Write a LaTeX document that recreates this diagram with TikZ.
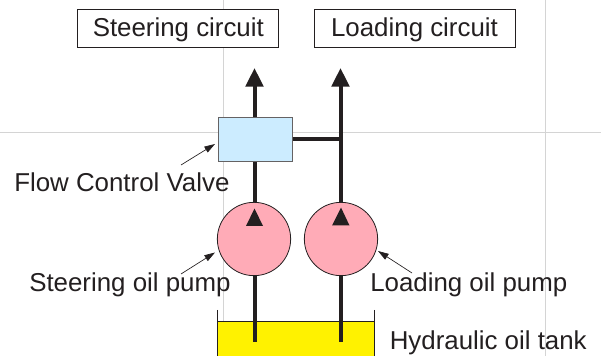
\documentclass[tikz,border=0pt]{standalone}
\usepackage{fontspec}
\setmainfont{Liberation Sans}
\usetikzlibrary{arrows.meta}
\definecolor{ink}{HTML}{231F20}
\definecolor{gridc}{HTML}{D4D4D4}
\definecolor{pumpc}{HTML}{FFABB7}
\definecolor{valvec}{HTML}{CCECFF}
\definecolor{tankc}{HTML}{FFF200}
\tikzset{
  x=0.75pt,y=-0.75pt,
  gridline/.style={draw=gridc,line width=0.75pt},
  labelbox/.style={draw=ink,fill=white,line width=0.6pt,minimum height=28.5pt,minimum width=150.75pt,inner sep=0pt,text height=14.6pt,text depth=3.3pt,font=\fontsize{19.4pt}{21pt}\selectfont,text=ink},
  pipe/.style={draw=ink,line width=3pt},
  flow/.style={pipe,-{Triangle[length=14pt,width=13pt]}},
  txt/.style={inner sep=0pt,font=\fontsize{19.4pt}{21pt}\selectfont,text=ink},
  pump/.style={circle,draw=ink,fill=pumpc,line width=0.6pt,minimum size=55pt,inner sep=0pt},
  lead/.style={draw=ink,line width=0.5pt,-{Triangle[length=8pt,width=5pt]}},
}
\begin{document}
\begin{tikzpicture}
\useasboundingbox (0,0) rectangle (601,356);
\draw[gridline] (223,0) -- (223,321);
\draw[gridline] (0,133) -- (601,133);
\draw[gridline] (545,0) -- (545,356);
% tank
\fill[tankc] (217.5,321.5) rectangle (374.5,356);
\draw[ink,line width=0.6pt] (217.5,310) -- (217.5,356);
\draw[ink,line width=0.6pt] (374.5,310) -- (374.5,356);
\draw[ink,line width=0.6pt] (217.5,321.5) -- (374.5,321.5);
% nodes
\node[labelbox] (sc) at (178.3,28.5) {Steering circuit};
\node[labelbox] (lc) at (414.5,28.5) {Loading circuit};
\coordinate (st) at (254.5,342);
\coordinate (lt) at (340.5,342);
\coordinate (sh) at (254.5,68);
\coordinate (lh) at (340.5,68);
\draw[flow] (st) -- (sh);
\draw[flow] (lt) -- (lh);
\node[draw=ink!70,fill=valvec,line width=0.7pt,minimum width=55.5pt,minimum height=33pt,inner sep=0pt] (valve) at (255.5,139) {};
\draw[pipe] (valve.east |- 0,139.5) -- (340.5,139.5);
\node[pump] (sp) at (254,239) {};
\node[pump] (lp) at (341,239) {};
\fill[ink] (254.5,208.5) -- (263,226) -- (246,226) -- cycle;
\fill[ink] (341,207.5) -- (349.5,225.5) -- (332,225.5) -- cycle;
\draw[pipe] (254.5,275) -- (st);
\draw[pipe] (340.5,275) -- (lt);
\node[txt,anchor=base west] (fcv) at (14,192) {Flow Control Valve};
\node[txt,anchor=base west] (sop) at (29,292) {Steering oil pump};
\node[txt,anchor=base west] (lop) at (370,292) {Loading oil pump};
\node[txt,anchor=base west] (hot) at (389.5,350) {Hydraulic oil tank};
\coordinate (a1) at (181,165);
\coordinate (a2) at (215,144);
\draw[lead] (a1) -- (a2);
\coordinate (b1) at (181,274);
\coordinate (b2) at (215,252.5);
\draw[lead] (b1) -- (b2);
\coordinate (c1) at (412,273);
\coordinate (c2) at (378,251);
\draw[lead] (c1) -- (c2);
\end{tikzpicture}
\end{document}
